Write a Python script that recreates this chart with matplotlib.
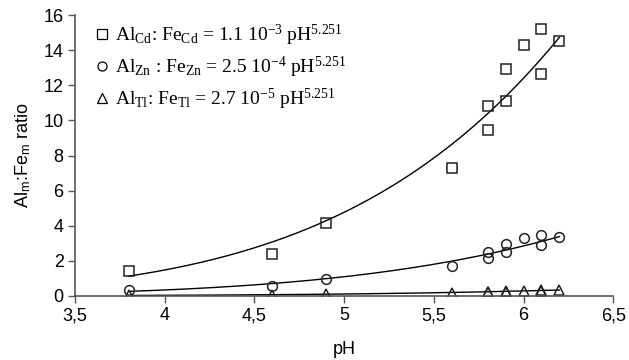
import numpy as np
from matplotlib import pyplot as plt
from matplotlib.ticker import FuncFormatter, MultipleLocator
from matplotlib.lines import Line2D

plt.rcParams['font.family'] = ['Liberation Sans', 'DejaVu Sans']
plt.rcParams['mathtext.fontset'] = 'custom'
plt.rcParams['mathtext.rm'] = 'Liberation Serif'
plt.rcParams['mathtext.it'] = 'Liberation Serif:italic'

# pH values shared by all three series
ph = [3.8, 4.6, 4.9, 5.6, 5.8, 5.8, 5.9, 5.9, 6.0, 6.1, 6.1, 6.2]

ratio_cd = [1.4, 2.4, 4.15, 7.3, 9.45, 10.8, 11.1, 12.95, 14.3, 15.2, 12.65, 14.55]
ratio_zn = [0.32, 0.55, 0.95, 1.68, 2.15, 2.5, 2.53, 2.97, 3.3, 3.49, 2.91, 3.35]
ratio_tl = [0.03, 0.06, 0.1, 0.18, 0.22, 0.25, 0.24, 0.28, 0.3, 0.33, 0.3, 0.35]

exponent = 5.251
labels = [r"Al$_{\mathrm{Cd}}$: Fe$_{\mathrm{Cd}}$ = 1.1 10$^{\mathrm{-3}}$ pH$^{\mathrm{5.251}}$",
          r"Al$_{\mathrm{Zn}}$ : Fe$_{\mathrm{Zn}}$ = 2.5 10$^{\mathrm{-4}}$ pH$^{\mathrm{5.251}}$",
          r"Al$_{\mathrm{Tl}}$: Fe$_{\mathrm{Tl}}$ = 2.7 10$^{\mathrm{-5}}$ pH$^{\mathrm{5.251}}$"]
markers = ["s", "o", "^"]

fig = plt.figure(figsize=(6.29, 3.6), dpi=100)
ax = fig.add_axes([0.119, 0.178, 0.856, 0.78])

x = np.array(ph)
xs = np.linspace(x.min(), x.max(), 200)
handles = []
for y, m in zip([ratio_cd, ratio_zn, ratio_tl], markers):
    y = np.array(y)
    # power trend with fixed exponent, coefficient fitted in log space
    a = np.exp(np.mean(np.log(y) - exponent * np.log(x)))
    ax.plot(xs, a * xs ** exponent, color="black", lw=1)
    ax.plot(x, y, linestyle="none", marker=m, ms=7, mfc="none", mec="#222222", mew=1.1)
    handles.append(Line2D([], [], linestyle="none", marker=m, ms=6.5, mfc="none", mec="black", mew=0.9))

ax.legend(handles, labels, loc="upper left", bbox_to_anchor=(0.025, 1.0), frameon=False,
          handlelength=0.6, handletextpad=0.35, labelspacing=0.35, borderaxespad=0,
          prop={"family": "Liberation Serif", "size": 14})

ax.set_xlim(3.5, 6.5)
ax.set_ylim(0, 16)
ax.xaxis.set_major_locator(MultipleLocator(0.5))
ax.yaxis.set_major_locator(MultipleLocator(2))
ax.xaxis.set_major_formatter(FuncFormatter(lambda v, p: ("%g" % v).replace(".", ",")))

for s in ["top", "right"]:
    ax.spines[s].set_visible(False)
for s in ["left", "bottom"]:
    ax.spines[s].set_color("#555555")
    ax.spines[s].set_linewidth(1.2)
ax.tick_params(direction="out", length=5, width=1, color="#555555", labelsize=13, pad=3)

ax.set_xlabel("pH", fontsize=13, labelpad=12)
ax.set_ylabel(r"Al$_{\mathregular{m}}$:Fe$_{\mathregular{m}}$ ratio", fontsize=13, labelpad=8)

plt.savefig("out.png", dpi=100)
